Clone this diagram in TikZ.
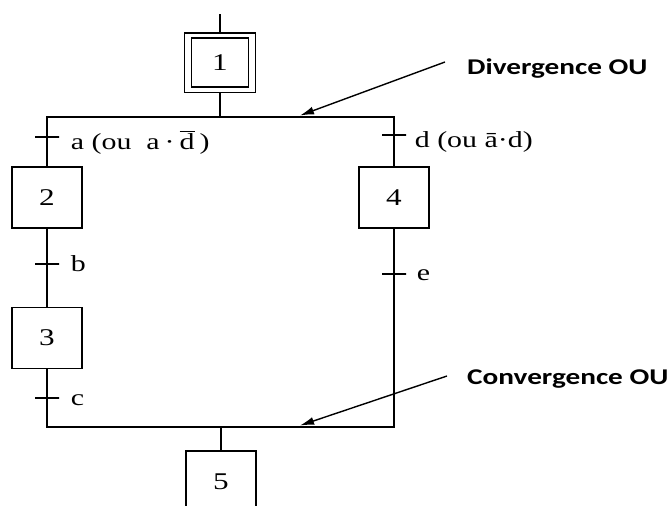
\documentclass[tikz,border=0pt]{standalone}
\usepackage{fontspec}
\setmainfont{Liberation Serif}
\newfontfamily\notefont{Carlito}
\usetikzlibrary{arrows.meta, positioning, calc, fit}
\newcommand{\wide}[1]{\scalebox{1.3}[1]{#1}}
\newcommand{\steptext}{\fontsize{24}{28}\selectfont}
\newcommand{\condtext}{\fontsize{23}{26}\selectfont}
\newcommand{\notetext}{\notefont\bfseries\fontsize{22.5}{26}\selectfont}
\tikzstyle{stepbox} = [draw, rectangle, line width=1.3pt, minimum width=70pt, minimum height=61pt, inner sep=0pt, font=\steptext]
\tikzstyle{trans} = [draw, rectangle, line width=1.3pt, minimum width=24pt, minimum height=0pt, inner sep=0pt]
\tikzstyle{cond} = [anchor=base west, inner sep=0pt, font=\condtext]
\tikzstyle{note} = [anchor=base west, inner sep=0pt, font=\notetext]
\tikzstyle{link} = [draw, line width=1.3pt]
\tikzstyle{pointer} = [draw, -{Latex[length=14pt, width=8pt]}, line width=1.4pt]

\begin{document}
\begin{tikzpicture}[x=1pt, y=-1pt]
    \clip (0,0) rectangle (670,506);
    % Draw steps
    \node (s1) [stepbox, minimum width=57pt, minimum height=49pt] at (220,62.5) {\wide{1}};
    \node (s1frame) [draw, line width=1.3pt, fit=(s1), inner xsep=6.5pt, inner ysep=4.5pt] {};
    \node (s2) [stepbox] at (47,197.5) {\wide{2}};
    \node (s3) [stepbox] at (47,338) {\wide{3}};
    \node (s4) [stepbox] at (394,197.5) {\wide{4}};
    \node (s5) [stepbox] at (221,481.5) {\wide{5}};

    % Transitions
    \node (ta) [trans] at (47,137) {};
    \node (tb) [trans] at (47,264) {};
    \node (tc) [trans] at (47,398) {};
    \node (td) [trans] at (394,135) {};
    \node (te) [trans] at (394,274) {};

    % Receptivities
    \node (ca) [cond] at ($(ta.east)+(11,12)$) {\wide{a (ou\ \ a\,·\,$\overline{\hbox{d}}$\,)}};
    \node (cb) [cond] at ($(tb.east)+(11,7)$) {\wide{b}};
    \node (cc) [cond] at ($(tc.east)+(11,7)$) {\wide{c}};
    \node (cd) [cond] at ($(td.east)+(8,12)$) {\wide{d (ou ā·d)}};
    \node (ce) [cond] at ($(te.east)+(10,6)$) {\wide{e}};

    % Junctions
    \coordinate (entry) at (220,14);
    \coordinate (divL) at (47,117);
    \coordinate (divR) at (394,117);
    \coordinate (convL) at (47,427);
    \coordinate (convR) at (394,427);

    % Links
    \draw [link] (entry) -- (s1frame);
    \draw [link] (s1frame) -- (s1frame |- divL);
    \draw [link] (ta) -- (divL) -- (divR) -- (td);
    \draw [link] (ta) -- (s2) -- (tb) -- (s3) -- (tc);
    \draw [link] (td) -- (s4) -- (te);
    \draw [link] (tc) -- (convL) -- (convR) -- (te);
    \draw [link] (s5 |- convL) -- (s5);

    % Annotations
    \node (divtxt) [note] at (467,74) {\wide{Divergence OU}};
    \node (convtxt) [note] at (467,384) {\wide{Convergence OU}};
    \coordinate (divtip) at (300,115.5);
    \coordinate (convtip) at (300,425.5);
    \draw [pointer] ($(divtxt.base west)+(-22,-12)$) -- (divtip);
    \draw [pointer] ($(convtxt.base west)+(-20,-8)$) -- (convtip);
\end{tikzpicture}
\end{document}
